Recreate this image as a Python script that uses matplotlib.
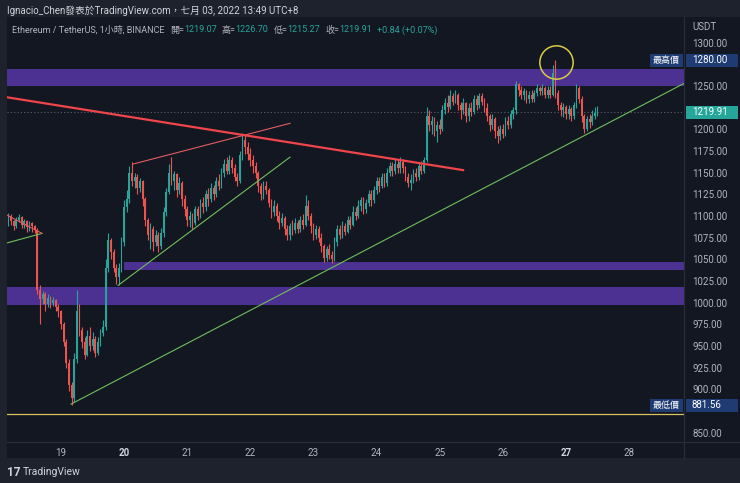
import matplotlib
matplotlib.use('Agg')
import matplotlib.pyplot as plt
import matplotlib.transforms as mtransforms
from matplotlib.patches import Rectangle
from matplotlib.lines import Line2D
import numpy as np

FONT = ['Roboto', 'Noto Sans CJK TC', 'DejaVu Sans']
plt.rcParams['font.family'] = FONT

# ---------------- data (hourly candles, hour 0 = 19 Jun 00:00) ----------------
first_hour = -20
first_open = 1092
closes = [
    1100, 1094, 1088, 1096, 1099, 1090, 1094, 1087, 1092, 1088, 1084,
    1015, 1004, 1010, 998, 1005, 1000, 1003, 995, 990,
    975, 955, 930, 905, 890, 935, 990, 968, 955, 940, 962, 950, 958, 942, 955, 965, 972, 1040, 1072, 1058, 1040, 1030, 1040, 1070,
    1110, 1120, 1150, 1140, 1145, 1132, 1140, 1120, 1095, 1078, 1085, 1070, 1078, 1065, 1080, 1105, 1128, 1150, 1140, 1148, 1130, 1138, 1120, 1108,
    1095, 1100, 1092, 1108, 1100, 1115, 1110, 1125, 1120, 1132, 1125, 1140, 1135, 1150, 1160, 1152, 1165, 1155, 1145, 1140, 1170, 1188, 1180, 1172,
    1165, 1158, 1150, 1135, 1125, 1135, 1130, 1115, 1105, 1112, 1100, 1092, 1098, 1085, 1078, 1088, 1084, 1092, 1085, 1095, 1090, 1112, 1100, 1088,
    1078, 1085, 1075, 1065, 1052, 1062, 1055, 1050, 1070, 1085, 1078, 1088, 1082, 1095, 1090, 1105, 1100, 1112, 1118, 1108, 1115, 1125, 1118, 1130,
    1140, 1135, 1145, 1138, 1150, 1158, 1152, 1160, 1155, 1162, 1155, 1145, 1138, 1142, 1150, 1145, 1158, 1152, 1165, 1215, 1205, 1210, 1198, 1205,
    1200, 1222, 1230, 1226, 1238, 1232, 1240, 1228, 1222, 1230, 1215, 1225, 1220, 1235, 1228, 1238, 1232, 1225, 1215, 1205, 1212, 1198, 1192, 1200,
    1195, 1210, 1205, 1218, 1222, 1252, 1245, 1240, 1244, 1235, 1240, 1235, 1242, 1248, 1244, 1248, 1240, 1246, 1240, 1265, 1242, 1228, 1222, 1226,
    1218, 1224, 1215, 1228, 1248, 1235, 1215, 1200, 1212, 1208, 1215, 1219.07, 1219.91,
]
highs = [
    1104, 1102, 1096, 1099, 1102, 1100, 1097, 1096, 1094, 1093, 1090,
    1086, 1020, 1014, 1012, 1010, 1008, 1007, 1004, 998,
    992, 978, 958, 935, 908, 942, 1015, 998, 972, 960, 968, 972, 966, 962, 960, 970, 980, 1050, 1080, 1075, 1062, 1045, 1046, 1076,
    1118, 1130, 1158, 1162, 1150, 1148, 1144, 1142, 1122, 1098, 1092, 1088, 1084, 1082, 1086, 1110, 1132, 1160, 1168, 1152, 1150, 1145, 1140, 1124,
    1112, 1106, 1104, 1112, 1112, 1120, 1122, 1130, 1132, 1138, 1136, 1145, 1148, 1155, 1166, 1168, 1170, 1168, 1160, 1150, 1175, 1196, 1195, 1185,
    1178, 1170, 1162, 1152, 1138, 1140, 1140, 1132, 1120, 1118, 1115, 1106, 1104, 1100, 1090, 1092, 1095, 1098, 1096, 1100, 1102, 1124, 1118, 1104,
    1092, 1090, 1088, 1080, 1068, 1066, 1068, 1060, 1076, 1090, 1090, 1094, 1092, 1100, 1100, 1112, 1110, 1118, 1122, 1122, 1120, 1130, 1130, 1135,
    1145, 1145, 1150, 1150, 1156, 1162, 1162, 1166, 1165, 1168, 1166, 1158, 1150, 1148, 1154, 1156, 1162, 1164, 1168, 1226, 1222, 1216, 1214, 1210,
    1212, 1228, 1236, 1240, 1245, 1242, 1245, 1242, 1232, 1236, 1232, 1230, 1232, 1240, 1240, 1242, 1242, 1236, 1230, 1218, 1218, 1214, 1204, 1205,
    1206, 1214, 1215, 1222, 1226, 1256, 1254, 1250, 1248, 1246, 1244, 1245, 1246, 1252, 1250, 1252, 1250, 1250, 1250, 1274, 1280, 1245, 1232, 1230,
    1228, 1228, 1226, 1232, 1252, 1250, 1238, 1218, 1215, 1218, 1222, 1226, 1226.70,
]
lows = [
    1088, 1090, 1084, 1086, 1093, 1086, 1086, 1082, 1083, 1082, 1080,
    1010, 976, 998, 990, 995, 994, 996, 990, 984,
    970, 950, 925, 898, 881.56, 886, 930, 962, 948, 935, 938, 944, 946, 937, 940, 950, 962, 968, 1035, 1050, 1035, 1022, 1020, 1036,
    1065, 1105, 1115, 1135, 1132, 1126, 1128, 1112, 1088, 1072, 1062, 1060, 1066, 1058, 1062, 1076, 1100, 1125, 1136, 1130, 1122, 1125, 1112, 1100,
    1088, 1087, 1085, 1090, 1095, 1098, 1104, 1106, 1112, 1116, 1118, 1122, 1130, 1132, 1145, 1148, 1148, 1150, 1140, 1135, 1138, 1165, 1172, 1165,
    1158, 1150, 1144, 1128, 1118, 1120, 1125, 1110, 1098, 1100, 1094, 1085, 1088, 1078, 1072, 1072, 1078, 1080, 1080, 1082, 1085, 1088, 1095, 1080,
    1072, 1074, 1070, 1058, 1047, 1048, 1050, 1046, 1048, 1066, 1074, 1075, 1078, 1080, 1085, 1088, 1095, 1098, 1106, 1102, 1104, 1112, 1112, 1115,
    1126, 1128, 1132, 1134, 1135, 1146, 1146, 1148, 1150, 1150, 1150, 1140, 1134, 1130, 1138, 1140, 1142, 1148, 1150, 1162, 1198, 1195, 1192, 1185,
    1195, 1198, 1218, 1220, 1224, 1228, 1230, 1222, 1212, 1218, 1208, 1210, 1215, 1218, 1222, 1225, 1228, 1220, 1210, 1198, 1200, 1190, 1184, 1188,
    1190, 1192, 1200, 1202, 1212, 1218, 1238, 1235, 1234, 1230, 1230, 1232, 1232, 1238, 1240, 1240, 1236, 1236, 1236, 1238, 1236, 1222, 1215, 1214,
    1212, 1212, 1210, 1212, 1225, 1230, 1208, 1196, 1198, 1202, 1205, 1212, 1215.27,
]

day_labels = ['19', '20', '21', '22', '23', '24', '25', '26', '27', '28']
bold_days = ['20', '27']
price_ticks = [850, 875, 900, 925, 950, 975, 1000, 1025, 1050, 1075, 1100, 1125,
               1150, 1175, 1200, 1225, 1250, 1275, 1300]
covered_ticks = [875, 1225, 1275]   # hidden behind price label boxes in the reference

# drawings (hour, price)
zones = [(-20.5, 236.9, 1250, 1270), (23.8, 236.9, 1038, 1047), (-20.5, 236.9, 997, 1018)]
red_long = ([-20.5, 152.9], [1237, 1153])
wedge_top = ([27.4, 87.1], [1160, 1207])
wedge_bot = ([21.7, 87.1], [1020, 1168])
green_long = ([3.8, 236.9], [883, 1253])
tri_top = ([-20.5, -7.2], [1101, 1080])
tri_bot = ([-20.5, -7.2], [1069, 1080])
low_line = 872
circle_pt = (188.2, 1277.8)
last_price = 1219.91
hi_price = 1280.00
lo_price = 881.56

# ---------------- figure ----------------
W, H = 740, 483
BG_OUT = '#1e222d'
BG = '#131722'
UP = '#26a69a'
DN = '#ef5350'
TXT = '#b2b5be'
NAVY = '#1f3b73'

fig = plt.figure(figsize=(7.4, 4.83), dpi=100, facecolor=BG_OUT)


def fx(x):
    return x / W


def fy(y):
    return 1 - y / H


fig.add_artist(Rectangle((fx(7), fy(458)), fx(740) - fx(7), fy(17) - fy(458),
                         transform=fig.transFigure, facecolor=BG, edgecolor='none', zorder=-5))

ax = fig.add_axes([fx(7), fy(442), fx(684) - fx(7), fy(17) - fy(442)])
ax.set_facecolor(BG)
ax.set_xlim(-20.53, 236.9)
ax.set_ylim(839.3, 1329.65)
for s in ax.spines.values():
    s.set_visible(False)

# zones
for x0, x1, lo, hi in zones:
    ax.add_patch(Rectangle((x0, lo), x1 - x0, hi - lo, facecolor='#4d3192', edgecolor='none', zorder=1))

# candles
c = np.array(closes, dtype=float)
o = np.r_[first_open, c[:-1]]
h = np.maximum(np.array(highs, dtype=float), np.maximum(o, c))
l = np.minimum(np.array(lows, dtype=float), np.minimum(o, c))
t = np.arange(first_hour, first_hour + len(c))
cols = np.where(c >= o, UP, DN)
ax.vlines(t, l, h, colors=cols, lw=0.8, zorder=3)
ax.bar(t, np.maximum(np.abs(c - o), 0.8), bottom=np.minimum(o, c), width=0.66,
       color=cols, lw=0, zorder=4)

# drawings
ax.axhline(last_price, color='#5d606b', lw=0.8, ls=(0, (1, 2)), zorder=2)
ax.plot(*green_long, color='#6fbf5a', lw=0.8, zorder=5)
ax.plot(*wedge_bot, color='#6fbf5a', lw=0.8, zorder=5)
ax.plot(*tri_bot, color='#6fbf5a', lw=0.8, zorder=5)
ax.plot(*wedge_top, color='#e45b5f', lw=0.8, zorder=5)
ax.plot(*tri_top, color='#e45b5f', lw=0.8, zorder=5)
ax.plot(*red_long, color='#f0454a', lw=1.6, zorder=5)
ax.axhline(low_line, color='#d9c45c', lw=0.9, zorder=5)
ax.plot([circle_pt[0]], [circle_pt[1]], 'o', ms=24, mfc='none', mec='#d9cb45', mew=1.1, zorder=6)

# axes ticks
ax.yaxis.tick_right()
ax.set_yticks(price_ticks)
ax.set_yticklabels(['' if v in covered_ticks else f'{v:.2f}' for v in price_ticks])
ax.tick_params(axis='y', length=0, pad=6, labelsize=7, labelcolor=TXT)
ax.set_xticks([24 * i for i in range(len(day_labels))])
ax.set_xticklabels(day_labels)
ax.tick_params(axis='x', length=0, pad=4, labelsize=7, labelcolor=TXT)
for lab in ax.get_xticklabels():
    if lab.get_text() in bold_days:
        lab.set_fontweight('bold')
        lab.set_color('#d1d4dc')

# pane dividers
fig.add_artist(Line2D([fx(684), fx(684)], [fy(17), fy(458)], transform=fig.transFigure, color='#2a2e39', lw=0.8))
fig.add_artist(Line2D([fx(7), fx(740)], [fy(442), fy(442)], transform=fig.transFigure, color='#2a2e39', lw=0.8))

# price label boxes
bt = mtransforms.blended_transform_factory(fig.transFigure, ax.transData)
hh = 7.5
for price, col, side in [(hi_price, NAVY, '最高價'), (last_price, UP, None), (lo_price, NAVY, '最低價')]:
    fig.add_artist(Rectangle((fx(686), price - hh), fx(738) - fx(686), 2 * hh, transform=bt,
                             facecolor=col, edgecolor='none', zorder=10, clip_on=False))
    fig.text(fx(692), price, f'{price:.2f}', transform=bt, ha='left', va='center',
             fontsize=7, color='white', zorder=11)
    if side:
        fig.add_artist(Rectangle((fx(650), price - hh), fx(683) - fx(650), 2 * hh, transform=bt,
                                 facecolor=col, edgecolor='none', zorder=10, clip_on=False))
        fig.text(fx(666.5), price, side, transform=bt, ha='center', va='center',
                 fontsize=6.5, color='white', zorder=11)

fig.text(fx(692), fy(27), 'USDT', ha='left', va='center', fontsize=7, color=TXT)

# header texts
fig.text(fx(7), fy(11), 'Ignacio_Chen發表於TradingView.com，七月 03, 2022 13:49 UTC+8',
         ha='left', va='center', fontsize=7, color='#d1d4dc')
pieces = [('Ethereum / TetherUS, 1小時, BINANCE', TXT, 5),
          ('開=', TXT, 0), ('1219.07', UP, 5),
          ('高=', TXT, 0), ('1226.70', UP, 5),
          ('低=', TXT, 0), ('1215.27', UP, 5),
          ('收=', TXT, 0), ('1219.91', UP, 5),
          ('+0.84 (+0.07%)', UP, 0)]
renderer = fig.canvas.get_renderer()
xpos = 12.5
for s, col, gap in pieces:
    tx = fig.text(fx(xpos), fy(30), s, ha='left', va='center', fontsize=6.5, color=col)
    xpos += tx.get_window_extent(renderer).width + gap

# footer logo
fig.text(fx(7), fy(472), '17', ha='left', va='center', fontsize=8.5, fontweight='bold', color='#d1d4dc')
fig.text(fx(23), fy(472), 'TradingView', ha='left', va='center', fontsize=7.5, color='#d1d4dc')

fig.savefig('out.png', dpi=100, facecolor=BG_OUT)
